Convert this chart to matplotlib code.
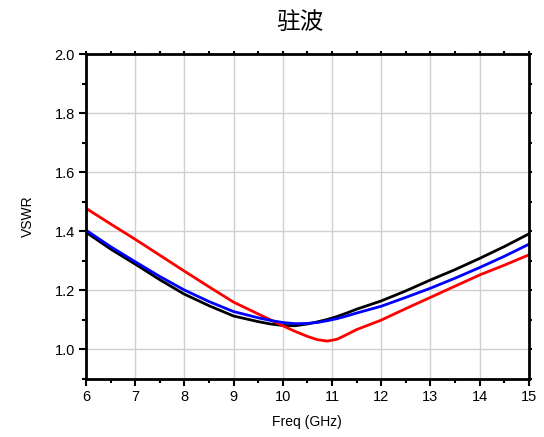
import matplotlib
matplotlib.use("Agg")
import matplotlib.pyplot as plt
from matplotlib.ticker import MultipleLocator

plt.rcParams['font.family'] = ['Liberation Sans', 'DejaVu Sans']

freq = [6, 6.5, 7, 7.5, 8, 8.5, 9, 9.5, 9.75, 10, 10.25, 10.5, 10.7, 10.9, 11.1, 11.3,
        11.5, 12, 12.5, 13, 13.5, 14, 14.5, 15]
vswr_black = [1.397, 1.340, 1.289, 1.236, 1.187, 1.148, 1.113, 1.094, 1.086, 1.081, 1.080,
              1.086, 1.093, 1.101, 1.111, 1.123, 1.136, 1.164, 1.198, 1.235, 1.270, 1.308,
              1.348, 1.391]
vswr_blue = [1.404, 1.348, 1.297, 1.247, 1.201, 1.162, 1.128, 1.107, 1.098, 1.091, 1.087,
             1.088, 1.091, 1.097, 1.104, 1.113, 1.123, 1.146, 1.176, 1.207, 1.241, 1.277,
             1.315, 1.356]
vswr_red = [1.478, 1.425, 1.373, 1.319, 1.265, 1.212, 1.160, 1.120, 1.100, 1.080, 1.061,
            1.044, 1.033, 1.028, 1.034, 1.050, 1.067, 1.099, 1.138, 1.176, 1.214, 1.252,
            1.285, 1.320]

fig = plt.figure(figsize=(5.44, 4.37), dpi=100)
ax = fig.add_axes([0.158, 0.133, 0.814, 0.743])

ax.plot(freq, vswr_black, color='black', lw=2)
ax.plot(freq, vswr_red, color='red', lw=2)
ax.plot(freq, vswr_blue, color='blue', lw=2)

ax.set_xlim(6, 15)
ax.set_ylim(0.9, 2.0)
ax.xaxis.set_major_locator(MultipleLocator(1))
ax.xaxis.set_minor_locator(MultipleLocator(0.5))
ax.yaxis.set_major_locator(MultipleLocator(0.2))
ax.yaxis.set_minor_locator(MultipleLocator(0.1))
ax.set_yticks([1.0, 1.2, 1.4, 1.6, 1.8, 2.0])
ax.grid(True, which='major', color='#d0d0d0', lw=1)
ax.set_axisbelow(True)

for s in ax.spines.values():
    s.set_linewidth(2)
ax.tick_params(which='major', direction='out', length=5, width=1.5, labelsize=10.5,
               top=True, right=True, pad=3)
ax.tick_params(which='minor', direction='out', length=3, width=1.5, top=True, right=True)
ax.tick_params(axis='both', which='both', labeltop=False, labelright=False)
for t in ax.xaxis.get_major_ticks() + ax.xaxis.get_minor_ticks():
    t.tick2line.set_markersize(2)
for t in ax.yaxis.get_major_ticks() + ax.yaxis.get_minor_ticks():
    t.tick2line.set_markersize(2)

ax.set_xlabel('Freq (GHz)', fontsize=10, labelpad=8)
ax.set_ylabel('VSWR', fontsize=10, labelpad=14)
fig.text(0.552, 0.948, '驻波', ha='center', va='center', fontsize=17, fontweight='light',
         family=['Noto Sans CJK SC', 'DejaVu Sans'])

fig.savefig('out.png', dpi=100)
